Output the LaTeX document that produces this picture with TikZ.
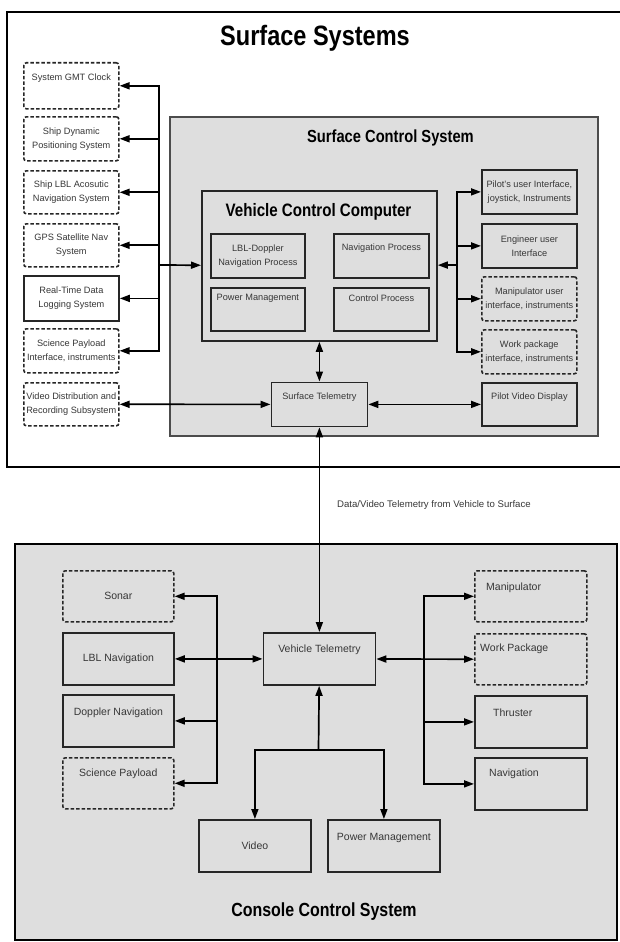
\documentclass[tikz,border=0pt]{standalone}
\usepackage{fontspec}
\setmainfont{Liberation Sans}
\newfontfamily\headfont[FakeStretch=0.84]{Liberation Sans}
\usetikzlibrary{arrows.meta,positioning}
\definecolor{panel}{RGB}{222,222,222}
\definecolor{ink}{RGB}{55,55,55}

\begin{document}
\begin{tikzpicture}[x=1pt, y=-1pt,
  blk/.style={draw=black!85, line width=1.8pt, anchor=north west, inner sep=1pt, align=center, text=ink, font=\fontsize{9.2}{14}\selectfont},
  dblk/.style={blk, line width=1.6pt, dash pattern=on 3.5pt off 2pt, rounded corners=2.5pt},
  bigblk/.style={blk, font=\fontsize{10.5}{14}\selectfont},
  toplbl/.style={anchor=center, yshift=-16pt, inner sep=0pt, text=ink, font=\fontsize{9.2}{14}\selectfont},
  biglbl/.style={toplbl, font=\fontsize{10.5}{14}\selectfont},
  head/.style={inner sep=0pt, font=\headfont\bfseries\fontsize{#1}{#1}\selectfont},
  arr/.style={line width=1.7pt, -{Triangle[length=10pt,width=7pt]}},
  darr/.style={line width=1.7pt, {Triangle[length=10pt,width=7pt]}-{Triangle[length=10pt,width=7pt]}}]
\useasboundingbox (0,0) rectangle (620,942);

% surface side
\draw[line width=2.4pt, fill=white] (7,12) rectangle (621,467);
\draw[draw=black!70, line width=2pt, fill=panel] (170,117) rectangle (598,436);
\node[head=28] (surfsys) at (315,38) {Surface Systems};
\node[head=17.5, anchor=east] (scs) at (474,138) {Surface Control System};

\node[blk, minimum width=235pt, minimum height=150pt] (vcc) at (201,190) {};
\node[head=18] (vcctitle) at (318.5,212) {Vehicle Control Computer};
\node[blk, minimum width=94pt, minimum height=44pt] (lbldp) at (210,233) {LBL-Doppler\\Navigation Process};
\node[blk, minimum width=95pt, minimum height=44pt, label={[toplbl, yshift=1pt]north:Navigation Process}] (navproc) at (333,233) {};
\node[blk, minimum width=94pt, minimum height=43pt, label={[toplbl, yshift=5pt]north:Power Management}] (powproc) at (210,287) {};
\node[blk, minimum width=95pt, minimum height=43pt, label={[toplbl, yshift=5pt]north:Control Process}] (ctlproc) at (333,287) {};

% left column
\node[dblk, fill=white, minimum width=95pt, minimum height=46pt, label={[toplbl]north:System GMT Clock}] (gmt) at (23,62) {};
\node[dblk, fill=white, minimum width=95pt, minimum height=44pt] (dynpos) at (23,116) {Ship Dynamic\\Positioning System};
\node[dblk, fill=white, minimum width=95pt, minimum height=43pt] (lblsys) at (23,170) {Ship LBL Acosutic\\Navigation System};
\node[dblk, fill=white, minimum width=95pt, minimum height=43pt] (gps) at (23,223) {GPS Satellite Nav\\System};
\node[blk, fill=white, minimum width=95pt, minimum height=45pt] (rtlog) at (23,275) {Real-Time Data\\Logging System};
\node[dblk, fill=white, minimum width=95pt, minimum height=44pt] (sciif) at (23,328) {Science Payload\\Interface, instruments};
\node[dblk, fill=white, minimum width=95pt, minimum height=43pt] (viddist) at (23,382) {Video Distribution and\\Recording Subsystem};

% right column
\node[blk, minimum width=95pt, minimum height=44pt] (pilotui) at (481,169) {Pilot's user Interface,\\joystick, Instruments};
\node[blk, minimum width=95pt, minimum height=44pt] (enggui) at (481,223) {Engineer user\\Interface};
\node[dblk, minimum width=95pt, minimum height=44pt] (maniui) at (481,276) {Manipulator user\\interface, instruments};
\node[dblk, minimum width=95pt, minimum height=44pt] (workui) at (481,329) {Work package\\interface, instruments};
\node[blk, minimum width=95pt, minimum height=43pt, label={[toplbl, yshift=1pt]north:Pilot Video Display}] (pvdisp) at (481,382) {};
\node[blk, minimum width=96pt, minimum height=44pt, label={[toplbl]north:Surface Telemetry}] (stel) at (270.5,381.5) {};

\coordinate (lbus) at (159,265);
\coordinate (rbus) at (457,265);
\draw[arr] (lbus) |- (gmt);
\draw[arr] (lbus) |- (dynpos);
\draw[arr] (lbus) |- (lblsys);
\draw[arr] (lbus) |- (gps);
\draw[arr] (lbus) |- (rtlog);
\draw[arr] (lbus) |- (sciif);
\draw[arr] (lbus) -- (vcc);
\draw[arr] (rbus) -- (vcc);
\draw[arr] (rbus) |- (pilotui);
\draw[arr] (rbus) |- (enggui);
\draw[arr] (rbus) |- (maniui);
\draw[arr] (rbus) |- (workui);
\draw[darr] (vcc.south) -- (stel.north);
\draw[darr] (viddist) -- (stel);
\draw[darr] (stel) -- (pvdisp);

\node[anchor=west, inner sep=0pt, text=ink, font=\fontsize{9.6}{12}\selectfont] (datalbl) at (337,505) {Data/Video Telemetry from Vehicle to Surface};

% vehicle side
\draw[line width=2.4pt, fill=panel] (15,544) rectangle (617,940);
\node[head=19] (ccs) at (324,912) {Console Control System};

\node[bigblk, minimum width=112pt, minimum height=52pt, label={[biglbl, yshift=-2pt]north:Vehicle Telemetry}] (vtel) at (262.5,632) {};
\node[dblk, font=\fontsize{10.5}{14}\selectfont, minimum width=111pt, minimum height=51pt] (sonar) at (62,570) {Sonar};
\node[bigblk, minimum width=111pt, minimum height=52pt] (lblnav) at (62,632) {LBL Navigation};
\node[bigblk, minimum width=111pt, minimum height=52pt, label={[biglbl, yshift=-3pt]north:Doppler Navigation}] (dopnav) at (62,694) {};
\node[dblk, minimum width=111pt, minimum height=51pt, label={[biglbl, yshift=-1pt]north:Science Payload}] (scipay) at (62,757) {};
\node[dblk, minimum width=112pt, minimum height=51pt, label={[biglbl, anchor=west, xshift=12pt, yshift=-2pt]north west:Manipulator}] (manip) at (474,570) {};
\node[dblk, minimum width=112pt, minimum height=51pt, label={[biglbl, anchor=west, xshift=6pt]north west:Work Package}] (workpkg) at (474,633) {};
\node[bigblk, minimum width=112pt, minimum height=52pt, label={[biglbl, anchor=west, xshift=19pt, yshift=-2pt]north west:Thruster}] (thrust) at (474,695) {};
\node[bigblk, minimum width=112pt, minimum height=52pt, label={[biglbl, anchor=west, xshift=15pt, yshift=-1pt]north west:Navigation}] (navig) at (474,757) {};
\node[bigblk, minimum width=112pt, minimum height=52pt] (video) at (198,819) {Video};
\node[bigblk, minimum width=112pt, minimum height=52pt, label={[biglbl, yshift=-3pt]north:Power Management}] (powman) at (327,819) {};

\draw[darr] (stel) -- (vtel);
\coordinate (lbus2) at (217,658);
\coordinate (rbus2) at (424,658);
\coordinate (split) at (318.5,750);
\draw[arr] (lbus2) |- (sonar);
\draw[arr] (lbus2) |- (dopnav);
\draw[arr] (lbus2) |- (scipay);
\draw[darr] (lblnav) -- (vtel);
\draw[darr] (vtel) -- (workpkg);
\draw[arr] (rbus2) |- (manip);
\draw[arr] (rbus2) |- (thrust);
\draw[arr] (rbus2) |- (navig);
\draw[arr] (split) -- (vtel);
\draw[arr] (split) -| (video);
\draw[arr] (split) -| (powman);
\end{tikzpicture}
\end{document}
